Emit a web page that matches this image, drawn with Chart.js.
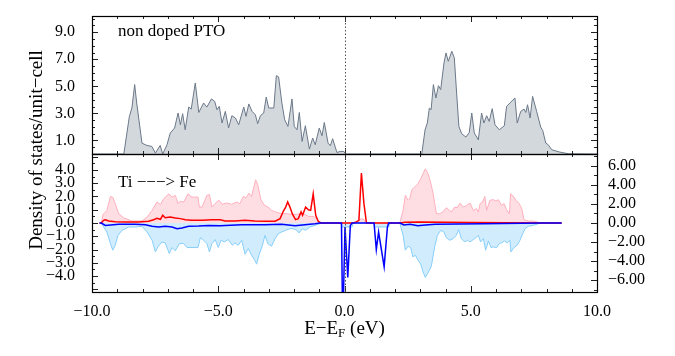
<!DOCTYPE html>
<html><head><meta charset="utf-8">
<script src="https://cdn.jsdelivr.net/npm/chart.js@4/dist/chart.umd.min.js"></script>
<style>
html,body{margin:0;padding:0;background:#fff;}
#wrap{position:relative;width:675px;height:356px;overflow:hidden;}
canvas{position:absolute;left:0;top:0;}
</style></head><body>
<div id="wrap"><canvas id="top" width="675" height="356"></canvas><canvas id="bot" width="675" height="356"></canvas></div>
<script>
// ---------- DATA ----------
// Top panel: total DOS of non-doped PTO
const topE   = [-10,-8.74,-8.52,-8.42,-8.31,-8.23,-8.02,-7.82,-7.63,-7.49,-7.3,-7.2,-7.03,-6.9,-6.73,-6.59,-6.5,-6.41,-6.31,-6.17,-6.07,-5.91,-5.77,-5.58,-5.45,-5.27,-5.14,-5.05,-4.96,-4.85,-4.72,-4.59,-4.46,-4.32,-4.19,-3.99,-3.9,-3.79,-3.66,-3.53,-3.44,-3.33,-3.2,-3.1,-3.0,-2.8,-2.7,-2.61,-2.48,-2.37,-2.24,-2.08,-1.99,-1.88,-1.79,-1.68,-1.55,-1.39,-1.26,-1.16,-1.0,-0.89,-0.8,-0.65,-0.56,-0.47,-0.3,-0.17,-0.03,0.05,
  3.06,3.19,3.28,3.36,3.43,3.52,3.62,3.72,3.81,3.94,4.02,4.11,4.25,4.35,4.44,4.53,4.64,4.81,4.94,5.04,5.14,5.3,5.43,5.52,5.63,5.73,5.85,5.96,6.13,6.33,6.42,6.55,6.75,6.84,6.98,7.11,7.18,7.25,7.35,7.45,7.61,7.77,7.85,7.97,8.07,8.21,8.53,8.86,10];
const topDOS = [0,0,2.78,3.4,5.13,3.77,0.8,0.63,0.56,0.07,0.63,0,0.68,1.55,1.92,3.03,2.16,2.98,1.79,3.47,3.32,5.25,3.07,3.77,3.47,4.07,3.89,3.27,3.52,2.29,3.15,1.92,2.83,2.66,2.16,3.47,2.78,3.7,3.15,2.9,2.24,2.83,3.03,4.21,3.4,3.4,5.79,5.7,3.77,2.53,2.04,4.07,2.04,1.79,3.07,0.93,2.09,0.36,1.18,0.68,1.92,1.35,2.33,0.8,0.61,1.13,0.11,0.19,0.19,0,
  0,1.79,2.29,3.4,3.27,5.13,4.14,5.05,4.76,6.73,7.47,6.85,7.59,7.1,4.51,2.04,1.5,1.25,1.59,3.03,1.55,1.05,3.03,2.29,2.83,2.41,3.35,2.16,1.79,2.09,3.52,3.77,4.14,2.29,3.15,3.32,3.07,3.64,2.66,4.26,3.15,1.99,1.74,0.81,0.68,0.31,0.14,0.02,0];

// Bottom panel: Ti -> Fe doped (shaded: up / down total, lines: Fe up / down)
const pinkE = [-9.7,-9.63,-9.56,-9.41,-9.27,-9.18,-9.08,-8.94,-8.75,-8.42,-8.02,-7.82,-7.62,-7.43,-7.29,-7.16,-6.96,-6.83,-6.7,-6.59,-6.5,-6.37,-6.2,-6.04,-5.8,-5.75,-5.64,-5.45,-5.35,-5.25,-5.13,-4.97,-4.84,-4.67,-4.47,-4.27,-4.14,-4.01,-3.9,-3.78,-3.68,-3.52,-3.44,-3.31,-3.17,-3.02,-2.89,-2.73,-2.49,-2.29,-2.09,-1.89,-1.7,-1.57,-1.43,-1.24,-1.1,-0.97,
  0.45,0.6,0.75,0.85,
  2.19,2.32,2.41,2.52,2.58,2.67,2.78,2.91,3.02,3.11,3.2,3.31,3.41,3.51,3.64,3.77,3.9,4.03,4.13,4.23,4.36,4.47,4.57,4.71,4.84,4.97,5.1,5.23,5.3,5.37,5.47,5.56,5.63,5.76,5.89,6.0,6.09,6.22,6.32,6.42,6.53,6.58,6.69,6.79,6.92,7.02,7.11,7.28,7.48,7.68,7.85,8.6];
const pinkV = [0,0,0.65,0.95,2.0,1.95,1.46,0.7,0.4,0.15,0.15,0.45,0.95,1.58,1.4,1.83,2.2,1.95,2.08,1.46,1.65,1.58,2.2,1.95,1.95,1.2,1.2,2.08,2.15,1.2,1.46,1.71,1.41,1.51,1.41,1.58,1.46,2.0,1.9,2.25,2.0,3.26,2.91,1.76,1.33,1.2,0.95,0.83,0.7,0.7,0.65,0.65,0.75,0.65,0.5,0.5,0.33,0,
  0,0.3,0.3,0,
  0,0.95,2.08,1.71,1.83,2.51,2.71,2.96,3.33,3.71,4.08,3.71,3.08,2.21,0.7,0.7,0.83,1.15,1.0,0.83,1.2,1.15,1.5,1.2,1.33,1.51,0.95,1.08,0.83,1.46,1.58,2.0,0.95,1.71,1.76,1.66,1.76,1.33,1.46,1.0,0.7,2.2,2.0,1.71,1.46,1.08,0.25,0.15,0.15,0.05,0,0];

const skyE = [-9.7,-9.63,-9.54,-9.41,-9.27,-9.18,-9.08,-8.97,-8.81,-8.55,-8.28,-8.02,-7.82,-7.62,-7.49,-7.39,-7.23,-7.1,-6.94,-6.83,-6.7,-6.54,-6.37,-6.24,-6.04,-5.8,-5.71,-5.58,-5.45,-5.35,-5.25,-5.12,-5.0,-4.89,-4.76,-4.6,-4.44,-4.34,-4.21,-4.07,-3.94,-3.81,-3.68,-3.57,-3.48,-3.39,-3.26,-3.15,-3.04,-2.89,-2.75,-2.62,-2.49,-2.33,-2.16,-2.03,-1.89,-1.8,-1.67,-1.54,-1.37,-1.17,-0.97,-0.91,
  -0.15,-0.1,0.3,0.35,1.15,1.2,1.75,1.8,
  2.19,2.32,2.41,2.52,2.62,2.71,2.81,2.91,3.02,3.11,3.2,3.31,3.44,3.57,3.68,3.81,3.94,4.03,4.17,4.3,4.43,4.52,4.63,4.76,4.87,4.97,5.1,5.21,5.3,5.39,5.5,5.59,5.7,5.8,5.89,6.03,6.13,6.22,6.33,6.45,6.55,6.59,6.71,6.84,6.95,7.06,7.15,7.28,7.48,7.68,7.81,8.6];
const skyV = [0,0,-0.3,-0.68,-1.55,-2.05,-1.68,-0.93,-0.55,-0.3,-0.3,-0.25,-0.68,-1.3,-2.18,-1.8,-1.43,-1.5,-2.3,-1.85,-2.1,-1.55,-1.55,-1.85,-1.85,-1.85,-1.1,-1.3,-1.55,-2.18,-1.55,-1.25,-1.85,-1.3,-1.43,-1.25,-1.68,-1.5,-1.68,-1.3,-2.35,-1.93,-2.43,-2.76,-3.1,-2.43,-1.75,-0.93,-1.55,-1.75,-1.18,-0.8,-0.68,-0.55,-0.43,-0.43,-0.55,-0.75,-0.43,-0.55,-0.3,-0.18,-0.05,0,
  0,-0.3,-0.3,0,0,-0.3,-0.3,0,
  0,-0.93,-2.05,-1.75,-1.85,-2.55,-2.43,-2.8,-3.1,-3.68,-4.1,-3.75,-3.25,-1.8,-0.93,-0.55,-0.68,-1.1,-1.3,-1.18,-0.93,-0.5,-1.18,-1.43,-1.3,-1.43,-1.25,-1.1,-0.93,-1.43,-1.18,-2.05,-1.35,-1.85,-1.8,-1.85,-1.55,-1.5,-1.35,-1.5,-1.3,-2.18,-1.85,-1.68,-1.3,-0.8,-0.43,-0.25,-0.18,-0.05,0,0];

const redE = [-9.7,-9.63,-9.54,-9.47,-9.34,-9.08,-8.68,-8.15,-7.76,-7.56,-7.43,-7.29,-7.2,-7.1,-6.9,-6.7,-6.5,-6.3,-6.04,-5.64,-5.25,-4.92,-4.73,-4.34,-3.94,-3.55,-3.15,-2.75,-2.55,-2.42,-2.33,-2.25,-2.16,-2.07,-1.94,-1.83,-1.72,-1.66,-1.54,-1.43,-1.34,-1.24,-1.14,-1.04,-0.93,
  0.34,0.47,0.57,0.67,0.77,0.87,
  2.2,2.4,3.0,4.0,5.0,7.8,8.6];
const redV = [0,0,0.2,0.25,0.15,0.1,0.08,0.08,0.13,0.25,0.35,0.28,0.58,0.4,0.45,0.38,0.33,0.25,0.2,0.2,0.25,0.25,0.15,0.15,0.2,0.15,0.13,0.13,0.33,0.9,1.2,1.58,1.2,0.7,0.25,0.33,0.83,0.58,1.2,1.0,0.95,2.2,0.58,0.13,0,
  0,0.08,0.2,3.76,1.46,0,
  0,0.05,0.08,0.05,0.03,0,0];

const blueE = [-9.7,-9.63,-9.47,-8.94,-8.28,-7.89,-7.62,-7.36,-7.1,-6.83,-6.63,-6.44,-6.17,-5.78,-5.38,-4.92,-4.73,-4.07,-3.15,-2.49,-1.96,-1.57,-1.17,-0.97,
  -0.12,-0.07,0.02,0.13,0.23,0.3,
  1.17,1.26,1.35,1.57,1.7,1.75,
  2.2,2.35,2.6,2.9,3.2,3.6,4.5,5.5,7.8,8.6];
const blueV = [0,0,-0.18,-0.1,-0.1,-0.13,-0.25,-0.3,-0.25,-0.3,-0.43,-0.38,-0.25,-0.23,-0.18,-0.2,-0.18,-0.13,-0.13,-0.1,-0.2,-0.13,-0.05,0,
  0,-8,-0.3,-4.1,-0.2,0,
  0,-2.0,-0.68,-3.3,-0.3,0,
  0,-0.15,-0.1,-0.2,-0.15,-0.1,-0.08,-0.05,0,0];

// Tick labels
const xTicks = [-10,-5,0,5,10];
const topYTicks = [1,3,5,7,9];
const botLeftTicks = [-4,-3,-2,-1,0,1,2,3,4];
const botRightTicks = [-6,-4,-2,0,2,4,6];

// ---------- HELPERS ----------
const FONT = "'Liberation Serif','Times New Roman',serif";
const pts = (xs, ys) => xs.map((x, i) => ({x, y: ys[i]}));
const fmt = (v, d) => (v < 0 ? '\u2212' : '') + Math.abs(v).toFixed(d);

function drawTicks(chart, spec){
  const ctx = chart.ctx, a = chart.chartArea, sx = chart.scales.x;
  ctx.save();
  ctx.strokeStyle = '#222'; ctx.lineWidth = 1;
  ctx.beginPath();
  for (let v = -9; v <= 9; v++){
    const px = Math.round(sx.getPixelForValue(v)) + 0.5;
    const len = (v % 5 === 0) ? 6 : 3;
    if (spec.xTop){ ctx.moveTo(px, a.top); ctx.lineTo(px, a.top + len); }
    if (spec.xBottom){ ctx.moveTo(px, a.bottom); ctx.lineTo(px, a.bottom - len); }
  }
  const ys = chart.scales.y, ys2 = chart.scales.y2;
  spec.left.forEach(([v, major]) => {
    const py = Math.round(ys.getPixelForValue(v)) + 0.5;
    if (py <= a.top + 1 || py >= a.bottom - 1) return;
    ctx.moveTo(a.left, py); ctx.lineTo(a.left + (major ? 6 : 3), py);
  });
  spec.right.forEach(([v, major]) => {
    const py = Math.round(ys2.getPixelForValue(v)) + 0.5;
    if (py <= a.top + 1 || py >= a.bottom - 1) return;
    ctx.moveTo(a.right, py); ctx.lineTo(a.right - (major ? 6 : 3), py);
  });
  ctx.stroke();
  // dotted Fermi level
  const x0 = Math.round(sx.getPixelForValue(0)) + 0.5;
  ctx.strokeStyle = '#555'; ctx.setLineDash([1.5, 2]);
  ctx.beginPath(); ctx.moveTo(x0, a.top); ctx.lineTo(x0, a.bottom); ctx.stroke();
  ctx.setLineDash([]);
  // frame
  ctx.strokeStyle = '#000'; ctx.lineWidth = 1.2;
  ctx.strokeRect(Math.round(a.left) + 0.5, Math.round(a.top) + 0.5, Math.round(a.right - a.left), Math.round(a.bottom - a.top));
  ctx.restore();
}

function rangeTicks(from, to, step, isMajor){
  const out = [];
  for (let v = from; v <= to + 1e-9; v += step){ const r = Math.round(v * 100) / 100; out.push([r, isMajor(r)]); }
  return out;
}

const topDeco = {
  id: 'topDeco',
  afterDraw(chart){
    drawTicks(chart, {
      xTop: true, xBottom: true,
      left: rangeTicks(0.5, 10, 0.5, v => topYTicks.includes(v)),
      right: rangeTicks(0.5, 10, 0.5, v => topYTicks.includes(v))
    });
    const ctx = chart.ctx;
    ctx.save();
    ctx.fillStyle = '#000'; ctx.font = '17px ' + FONT; ctx.textBaseline = 'middle'; ctx.textAlign = 'left';
    ctx.fillText('non doped PTO', 118, 32);
    ctx.restore();
  }
};

const botDeco = {
  id: 'botDeco',
  afterDraw(chart){
    drawTicks(chart, {
      xTop: true, xBottom: true,
      left: rangeTicks(-5, 5, 0.5, v => Number.isInteger(v)),
      right: rangeTicks(-7, 7, 1, v => v % 2 === 0)
    });
    const ctx = chart.ctx, a = chart.chartArea;
    ctx.save();
    ctx.fillStyle = '#000'; ctx.textBaseline = 'middle';
    ctx.font = '17px ' + FONT; ctx.textAlign = 'left';
    ctx.fillText('Ti \u2212\u2212\u2212> Fe', 118, 183);
    // x-axis title with subscript
    const big = '19px ' + FONT, small = '13px ' + FONT;
    ctx.font = big; const w1 = ctx.measureText('E\u2212E').width, w3 = ctx.measureText(' (eV)').width;
    ctx.font = small; const w2 = ctx.measureText('F').width;
    let x = (a.left + a.right) / 2 - (w1 + w2 + w3) / 2; const y = 329;
    ctx.font = big; ctx.fillText('E\u2212E', x, y); x += w1;
    ctx.font = small; ctx.fillText('F', x, y + 5); x += w2;
    ctx.font = big; ctx.fillText(' (eV)', x, y);
    // y-axis title
    ctx.translate(37, 150); ctx.rotate(-Math.PI / 2);
    ctx.font = '19px ' + FONT; ctx.textAlign = 'center';
    ctx.fillText('Density of states/unit\u2212cell', 0, 0);
    ctx.restore();
  }
};

const noGrid = {display: false, drawTicks: false};
const tickFont = {family: FONT, size: 16};
const fitV = w => function(s){ s.width = w; s.paddingTop = 0; s.paddingBottom = 0; };
const fitH = h => function(s){ s.height = h; s.paddingLeft = 0; s.paddingRight = 0; };

// Target plot rectangles (layout only)
const TOP_AREA = {top: 16, bottom: 154}, BOT_AREA = {top: 154, bottom: 292};

const topChart = new Chart(document.getElementById('top'), {
  type: 'line',
  data: {datasets: [{data: pts(topE, topDOS), fill: 'origin', backgroundColor: '#d3d8dd', borderColor: '#6b7889', borderWidth: 1, pointRadius: 0, tension: 0}]},
  options: {
    responsive: false, animation: false, events: [],
    layout: {padding: {top: TOP_AREA.top, bottom: 356 - TOP_AREA.bottom, left: 0, right: 0}},
    plugins: {legend: {display: false}, tooltip: {enabled: false}},
    scales: {
      x: {type: 'linear', min: -10, max: 10, ticks: {display: false}, grid: noGrid, border: {display: false}, afterFit: fitH(0)},
      y: {position: 'left', min: 0, max: 10.2, afterBuildTicks(s){ s.ticks = topYTicks.map(v => ({value: v})); },
          ticks: {callback: v => fmt(v, 1), font: tickFont, color: '#000', padding: 17, autoSkip: false},
          grid: noGrid, border: {display: false}, afterFit: fitV(92)},
      y2: {position: 'right', min: 0, max: 10.2, ticks: {display: false}, grid: noGrid, border: {display: false}, afterFit: fitV(78)}
    }
  },
  plugins: [topDeco]
});

const botChart = new Chart(document.getElementById('bot'), {
  type: 'line',
  data: {datasets: [
    {data: pts(pinkE, pinkV), fill: 'origin', backgroundColor: 'rgba(255,190,200,0.5)', borderColor: '#ffb0bd', borderWidth: 1, pointRadius: 0, order: 4},
    {data: pts(skyE, skyV), fill: 'origin', backgroundColor: 'rgba(135,206,250,0.38)', borderColor: '#87cefa', borderWidth: 1, pointRadius: 0, order: 3},
    {data: pts(redE, redV), fill: false, borderColor: '#ff0000', borderWidth: 1.5, pointRadius: 0, order: 2},
    {data: pts(blueE, blueV), fill: false, borderColor: '#0000ff', borderWidth: 1.5, pointRadius: 0, order: 1}
  ]},
  options: {
    responsive: false, animation: false, events: [],
    layout: {padding: {top: BOT_AREA.top, bottom: 0, left: 0, right: 0}},
    plugins: {legend: {display: false}, tooltip: {enabled: false}},
    scales: {
      x: {type: 'linear', min: -10, max: 10, afterBuildTicks(s){ s.ticks = xTicks.map(v => ({value: v})); },
          ticks: {callback: v => fmt(v, 1), font: tickFont, color: '#000', padding: 10, maxRotation: 0, autoSkip: false},
          grid: noGrid, border: {display: false}, afterFit: fitH(356 - BOT_AREA.bottom)},
      y: {position: 'left', min: -5.2, max: 5.2, afterBuildTicks(s){ s.ticks = botLeftTicks.map(v => ({value: v})); },
          ticks: {callback: v => fmt(v, 1), font: tickFont, color: '#000', padding: 17, autoSkip: false},
          grid: noGrid, border: {display: false}, afterFit: fitV(92)},
      y2: {position: 'right', min: -7.25, max: 7.25, afterBuildTicks(s){ s.ticks = botRightTicks.map(v => ({value: v})); },
          ticks: {callback: v => fmt(v, 2), font: tickFont, color: '#000', padding: 11, autoSkip: false},
          grid: noGrid, border: {display: false}, afterFit: fitV(78)}
    }
  },
  plugins: [botDeco]
});

// Correct any residual automatic layout padding so plot rectangles land exactly
function settle(chart, want){
  for (let i = 0; i < 3; i++){
    const a = chart.chartArea, p = chart.options.layout.padding;
    const dt = a.top - want.top, db = want.bottom - a.bottom;
    if (Math.abs(dt) < 0.25 && Math.abs(db) < 0.25) break;
    p.top -= dt; p.bottom -= db;
    chart.update('none');
  }
}
settle(topChart, TOP_AREA);
settle(botChart, BOT_AREA);
</script>
</body></html>
